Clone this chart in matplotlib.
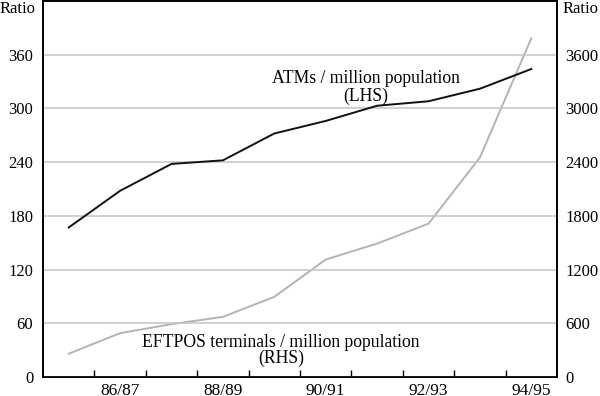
import matplotlib
matplotlib.use("Agg")
import matplotlib.pyplot as plt
from matplotlib.ticker import FixedLocator

plt.rcParams['font.family'] = ['Liberation Serif', 'DejaVu Serif']
FS = 12.7      # annotation size
TFS = 12       # tick label size

# Financial years (one point per year)
years = ["85/86", "86/87", "87/88", "88/89", "89/90",
         "90/91", "91/92", "92/93", "93/94", "94/95"]
atms = [167, 208, 238, 242, 272, 286, 303, 308, 322, 344]          # LHS
eftpos = [260, 490, 590, 672, 895, 1312, 1490, 1713, 2452, 3782]   # RHS

left_ticks = [0, 60, 120, 180, 240, 300, 360]
right_ticks = [0, 600, 1200, 1800, 2400, 3000, 3600]

fig = plt.figure(figsize=(6, 3.96), dpi=100)
ax = fig.add_axes([0.0717, 0.048, 0.8566, 0.9495])
ax2 = ax.twinx()

x = list(range(len(years)))

ax.set_ylim(0, 420)
ax2.set_ylim(0, 4200)
ax.set_xlim(-0.5, len(years) - 0.5)

ax.set_yticks(left_ticks)
ax2.set_yticks(right_ticks)
ax.grid(axis="y", color="#c4c4c4", linewidth=1.1)
ax.set_axisbelow(True)

ax2.plot(x, eftpos, color="#b4b4b4", linewidth=1.4)
ax.plot(x, atms, color="#111111", linewidth=1.4)
ax.set_zorder(ax2.get_zorder() + 1)
ax.patch.set_visible(False)

# x labels every second year, boundary ticks inside
ax.set_xticks(x[1::2])
ax.set_xticklabels(years[1::2])
ax.xaxis.set_minor_locator(FixedLocator([i + 0.5 for i in range(len(years) - 1)]))
ax.tick_params(axis="x", which="major", length=0, pad=4, labelsize=TFS + 0.5)
ax.tick_params(axis="x", which="minor", direction="in", length=5, width=1)
ax.tick_params(axis="y", length=0, pad=7, labelsize=TFS)
ax2.tick_params(axis="y", length=0, pad=6, labelsize=TFS)

for a in (ax, ax2):
    for s in a.spines.values():
        s.set_linewidth(1.2)
        s.set_color("black")

fig.text(0.0, 0.978, "Ratio", fontsize=TFS, ha="left", va="center")
fig.text(0.997, 0.978, "Ratio", fontsize=TFS, ha="right", va="center")

ax.text(5.78, 333, "ATMs / million population", fontsize=FS, ha="center", va="center")
ax.text(5.78, 314, "(LHS)", fontsize=FS, ha="center", va="center")
ax.text(4.13, 39, "EFTPOS terminals / million population", fontsize=FS,
        ha="center", va="center")
ax.text(4.13, 21, "(RHS)", fontsize=FS, ha="center", va="center")

fig.savefig("out.png", dpi=100)
